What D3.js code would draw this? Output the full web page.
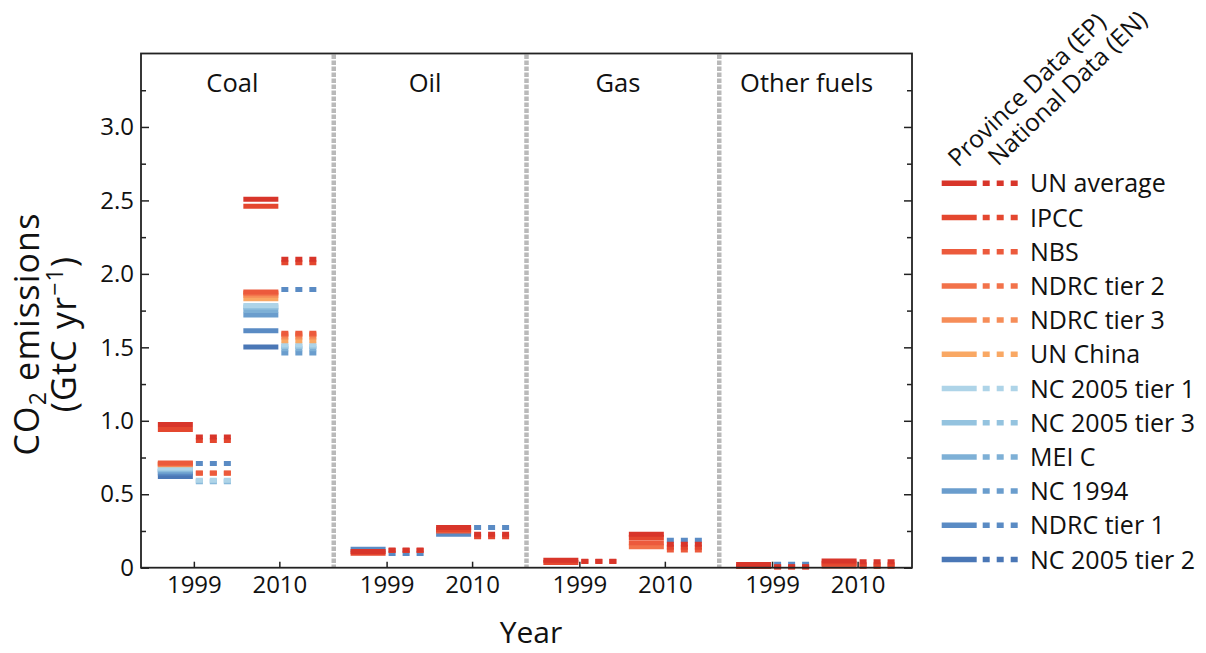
<!DOCTYPE html>
<html>
<head>
<meta charset="utf-8">
<script src="https://cdn.jsdelivr.net/npm/d3@7"></script>
<style>
  body { margin: 0; background: #fff; }
  text { font-family: "Open Sans", "Noto Sans", sans-serif; fill: #111; }
</style>
</head>
<body>
<svg id="chart" width="1206" height="653"></svg>
<script>
// ---- Data -------------------------------------------------------------
const fuels = ["Coal", "Oil", "Gas", "Other fuels"];
const years = [1999, 2010];
const sources = ["UN average", "IPCC", "NBS", "NDRC tier 2", "NDRC tier 3", "UN China",
                 "NC 2005 tier 1", "NC 2005 tier 3", "MEI C", "NC 1994", "NDRC tier 1", "NC 2005 tier 2"];
const sourceColors = ["#d8352a", "#e4472f", "#ec5a3c", "#f2724a", "#f68d58", "#f9a864",
                      "#aed4e8", "#94c3df", "#7eb0d6", "#6a9dcd", "#5a8bc4", "#4a77b6"];
const yTicks = [0, 0.5, 1.0, 1.5, 2.0, 2.5, 3.0];
const yMinorTicks = [0.25, 0.75, 1.25, 1.75, 2.25, 2.75, 3.25];

// CO2 emissions (GtC/yr), one value per source (null = not reported)
//                      UNavg  IPCC   NBS    NDRC2  NDRC3  UNChn  NC05t1 NC05t3 MEIC   NC94   NDRC1  NC05t2
const coalProvince1999 = [0.975, 0.94, 0.712, 0.708, 0.704, 0.700, 0.678, 0.672, 0.665, 0.655, 0.645, 0.620];
const coalProvince2010 = [2.508, 2.461, 1.877, 1.868, 1.855, 1.830, 1.785, 1.775, 1.750, 1.720, 1.612, 1.503];
const coalNational1999 = [0.890, 0.865, 0.645, 0.643, null, null, 0.595, 0.590, 0.585, null, 0.710, null];
const coalNational2010 = [2.100, 2.075, 1.595, 1.585, 1.570, 1.545, 1.515, 1.505, 1.490, 1.462, 1.894, null];
const oilProvince1999  = [0.110, 0.098, null, null, null, null, null, null, null, null, 0.126, null];
const oilProvince2010  = [0.273, 0.260, 0.250, null, null, null, null, null, null, null, 0.228, null];
const oilNational1999  = [0.120, 0.117, null, null, null, null, null, null, null, null, 0.097, null];
const oilNational2010  = [0.228, 0.210, null, null, null, null, null, null, null, null, 0.273, null];
const gasProvince1999  = [0.051, 0.036, null, null, null, null, null, null, null, null, null, null];
const gasProvince2010  = [0.228, 0.205, 0.170, 0.142, null, null, null, null, null, null, null, null];
const gasNational1999  = [0.044, 0.042, null, null, null, null, null, null, null, null, null, null];
const gasNational2010  = [0.160, 0.140, 0.120, null, null, null, null, null, null, null, 0.187, null];
const otherProvince1999 = [0.022, 0.008, null, null, null, null, null, null, null, null, null, null];
const otherProvince2010 = [0.046, 0.030, 0.012, null, null, null, null, null, null, null, null, null];
const otherNational1999 = [0.006, 0.004, null, null, null, null, null, null, null, null, 0.024, null];
const otherNational2010 = [0.040, 0.020, 0.008, null, null, null, null, null, null, null, null, null];

const fuelData = [
  { province: [coalProvince1999, coalProvince2010], national: [coalNational1999, coalNational2010] },
  { province: [oilProvince1999, oilProvince2010], national: [oilNational1999, oilNational2010] },
  { province: [gasProvince1999, gasProvince2010], national: [gasNational1999, gasNational2010] },
  { province: [otherProvince1999, otherProvince2010], national: [otherNational1999, otherNational2010] }
];

// ---- Layout -----------------------------------------------------------
const svg = d3.select("#chart");
const plotLeft = 141, plotRight = 912, plotTop = 53.5, plotBottom = 567.7;
const panelW = (plotRight - plotLeft) / fuels.length;
const lineW = 5;
const segLen = 35;

const y = d3.scaleLinear().domain([0, 3.5]).range([plotBottom, plotTop]);
const panelX = d3.scaleBand().domain(fuels).range([plotLeft, plotRight]).padding(0);
const xInPanel = d3.scaleLinear().domain([1992.2, 2017.0]).range([0, panelW]);

// ---- Marks ------------------------------------------------------------
const marks = svg.append("g");
fuels.forEach((fuel, fi) => {
  const g = marks.append("g").attr("transform", `translate(${panelX(fuel)},0)`);
  years.forEach((yr, yi) => {
    const xt = xInPanel(yr);
    // draw from the last source to the first so the upper series sit on top
    for (let s = sources.length - 1; s >= 0; s--) {
      const vP = fuelData[fi].province[yi][s];
      if (vP != null) {
        g.append("line")
          .attr("x1", xt - 1 - segLen).attr("x2", xt - 1)
          .attr("y1", y(vP)).attr("y2", y(vP))
          .attr("stroke", sourceColors[s]).attr("stroke-width", lineW);
      }
    }
    for (let s = sources.length - 1; s >= 0; s--) {
      const vN = fuelData[fi].national[yi][s];
      if (vN != null) {
        g.append("line")
          .attr("x1", xt + 2).attr("x2", xt + 2 + segLen)
          .attr("y1", y(vN)).attr("y2", y(vN))
          .attr("stroke", sourceColors[s]).attr("stroke-width", lineW)
          .attr("stroke-dasharray", "7,7");
      }
    }
  });
});

// ---- Panel separators ---------------------------------------------------
fuels.slice(1).forEach(f => {
  svg.append("line")
    .attr("x1", panelX(f)).attr("x2", panelX(f))
    .attr("y1", plotTop + 1).attr("y2", plotBottom)
    .attr("stroke", "#b9b9b9").attr("stroke-width", 4.5)
    .attr("stroke-dasharray", "4.5,1.5");
});

// ---- Axes -------------------------------------------------------------
const fmt = d => d === 0 ? "0" : d3.format(".1f")(d);
const yAxisL = svg.append("g").attr("transform", `translate(${plotLeft},0)`)
  .call(d3.axisLeft(y).tickValues(yTicks).tickFormat(fmt).tickSizeInner(-8).tickSizeOuter(0).tickPadding(7));
const yAxisLm = svg.append("g").attr("transform", `translate(${plotLeft},0)`)
  .call(d3.axisLeft(y).tickValues(yMinorTicks).tickFormat("").tickSizeInner(-5).tickSizeOuter(0));
const yAxisR = svg.append("g").attr("transform", `translate(${plotRight},0)`)
  .call(d3.axisRight(y).tickValues(yTicks).tickFormat("").tickSizeInner(-8).tickSizeOuter(0));
const yAxisRm = svg.append("g").attr("transform", `translate(${plotRight},0)`)
  .call(d3.axisRight(y).tickValues(yMinorTicks).tickFormat("").tickSizeInner(-5).tickSizeOuter(0));
[yAxisL, yAxisLm, yAxisR, yAxisRm].forEach(a => {
  a.select(".domain").remove();
  a.selectAll("line").attr("stroke", "#222").attr("stroke-width", 1.5);
  a.selectAll("text").attr("font-size", 24).attr("fill", "#111")
    .attr("font-family", '"Open Sans", sans-serif');
});

fuels.forEach(f => {
  const ax = svg.append("g").attr("transform", `translate(${panelX(f)},${plotBottom})`)
    .call(d3.axisBottom(xInPanel).tickValues(years).tickFormat(d3.format("d"))
      .tickSizeInner(-6).tickSizeOuter(0).tickPadding(8));
  ax.select(".domain").remove();
  ax.selectAll("line").attr("stroke", "#222").attr("stroke-width", 1.5);
  ax.selectAll("text").attr("font-size", 24).attr("fill", "#111")
    .attr("font-family", '"Open Sans", sans-serif');
});

// frame
svg.append("rect")
  .attr("x", plotLeft).attr("y", plotTop).attr("width", plotRight - plotLeft).attr("height", plotBottom - plotTop)
  .attr("fill", "none").attr("stroke", "#222").attr("stroke-width", 1.8);

// ---- Panel titles -----------------------------------------------------
fuels.forEach(f => {
  svg.append("text")
    .attr("x", panelX(f) + panelW / 2 - (f.length > 4 ? 9 : 5)).attr("y", 92)
    .attr("text-anchor", "middle").attr("font-size", 25.5)
    .text(f);
});

// ---- Axis titles ------------------------------------------------------
const yTitle = svg.append("g").attr("transform", "translate(39,334) rotate(-90)");
const t1 = yTitle.append("text").attr("text-anchor", "middle").attr("font-size", 34)
  .attr("letter-spacing", 1.2);
t1.append("tspan").text("CO");
t1.append("tspan").attr("font-size", 23).attr("dy", 7).text("2");
t1.append("tspan").attr("dy", -7).text(" emissions");
const t2 = yTitle.append("text").attr("text-anchor", "middle").attr("font-size", 34).attr("y", 37)
  .attr("letter-spacing", 1.2);
t2.append("tspan").text("(GtC yr");
t2.append("tspan").attr("font-size", 23).attr("dy", -13).text("\u22121");
t2.append("tspan").attr("dy", 13).text(")");

svg.append("text")
  .attr("x", 531).attr("y", 643).attr("text-anchor", "middle").attr("font-size", 30)
  .text("Year");

// ---- Legend -----------------------------------------------------------
const legX = 941.7, legY0 = 183.3, legStep = 34.2;
const leg = svg.append("g");
sources.forEach((s, i) => {
  const yy = legY0 + i * legStep;
  leg.append("line").attr("x1", legX).attr("x2", legX + segLen)
    .attr("y1", yy).attr("y2", yy).attr("stroke", sourceColors[i]).attr("stroke-width", 5.5);
  leg.append("line").attr("x1", legX + 41).attr("x2", legX + 41 + segLen)
    .attr("y1", yy).attr("y2", yy).attr("stroke", sourceColors[i]).attr("stroke-width", 5.5)
    .attr("stroke-dasharray", "7,7");
  leg.append("text").attr("x", 1030).attr("y", yy + 9).attr("font-size", 25).text(s);
});
svg.append("text").attr("transform", "translate(958,168) rotate(-44)")
  .attr("font-size", 24.5).text("Province Data (EP)");
svg.append("text").attr("transform", "translate(998,167) rotate(-44)")
  .attr("font-size", 24.5).text("National Data (EN)");
</script>
</body>
</html>
